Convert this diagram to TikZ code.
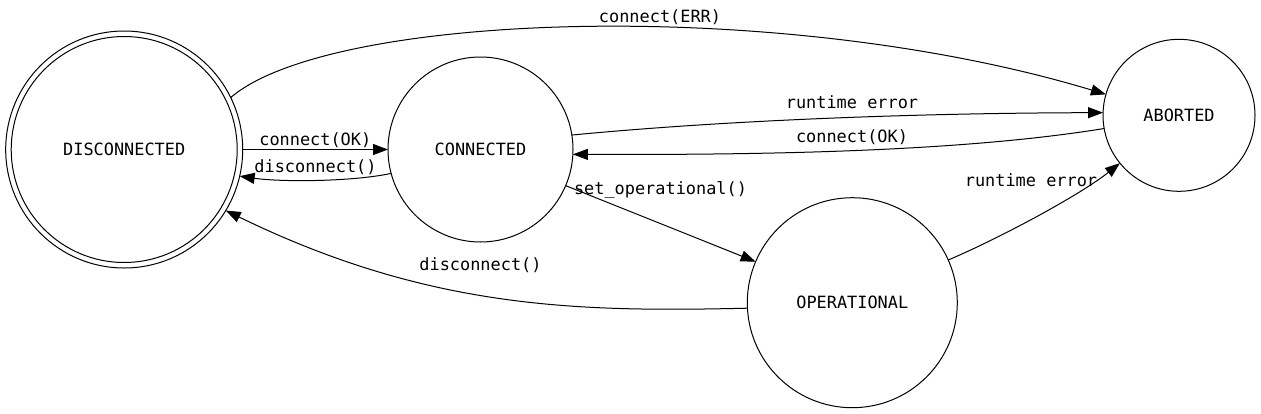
\documentclass[tikz,border=0pt]{standalone}
\usepackage{fontspec}
\setmonofont{DejaVu Sans Mono}
\usetikzlibrary{arrows.meta}
\begin{document}
\begin{tikzpicture}[x=1pt,y=-1pt,
  state/.style={circle, draw, line width=1pt, inner sep=0pt, outer sep=0pt, font=\ttfamily\fontsize{16.9}{20}\selectfont},
  edge/.style={line width=1pt, -{Triangle[length=15pt,width=11pt]}},
  lbl/.style={anchor=base, inner sep=0pt, font=\ttfamily\fontsize{16.9}{20}\selectfont}]
\useasboundingbox[fill=white] (0,0) rectangle (1261,413);
% states
\node[state, minimum size=237pt] (D) at (124.2,149.5) {DISCONNECTED};
\draw[line width=1pt] (D.center) circle[radius=113pt];
\node[state, minimum size=185pt] (C) at (480.5,149.5) {CONNECTED};
\node[state, minimum size=152pt] (A) at (1179,115.3) {ABORTED};
\node[state, minimum size=210pt] (O) at (852.3,302.7) {OPERATIONAL};
% edges
\draw[edge] (D.26.3) .. controls (330,12) and (780,-4) .. (A.164.5);
\draw[edge] (D.0) -- (C.180);
\draw[edge] (C.195.5) .. controls (350,182) and (280,182) .. (D.347.5);
\draw[edge] (C.9.6) .. controls (750,118) and (950,113) .. (A.178.7);
\draw[edge] (A.190.4) .. controls (960,152) and (760,155) .. (C.357.6);
\draw[edge] (C.337.4) -- (O.157);
\draw[edge] (O.183) .. controls (580,312) and (430,310) .. (D.329.2);
\draw[edge] (O.24) .. controls (1000,238) and (1080,195) .. (A.219.3);
% labels
\node[lbl] (l1) at (660,22.7) {connect(ERR)};
\node[lbl] (l2) at (315.3,145) {connect(OK)};
\node[lbl] (l3) at (315.5,172) {disconnect()};
\node[lbl] (l4) at (852,108.3) {runtime error};
\node[lbl] (l5) at (852,142.7) {connect(OK)};
\node[lbl] (l6) at (660.5,194) {set\_operational()};
\node[lbl] (l7) at (480.5,270.7) {disconnect()};
\node[lbl] (l8) at (1031,186) {runtime error};
\end{tikzpicture}
\end{document}
